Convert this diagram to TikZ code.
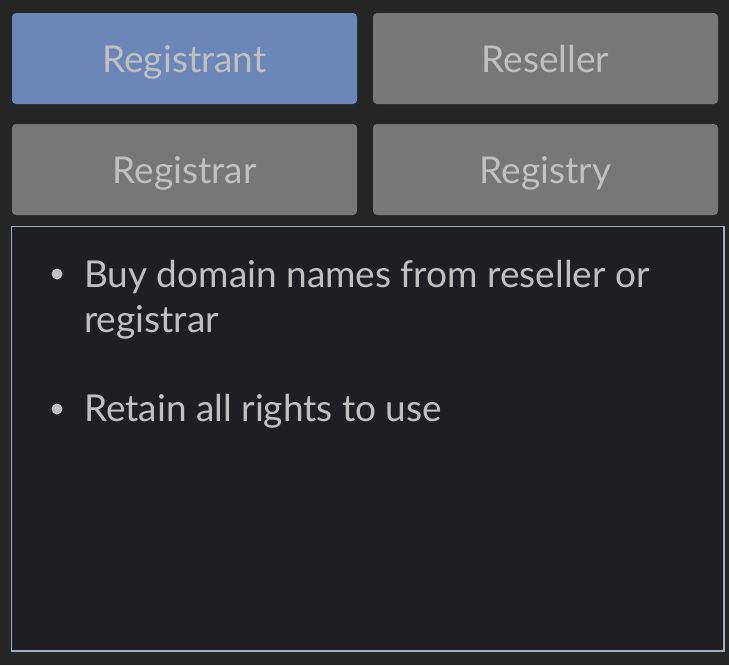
\documentclass[tikz,border=0pt]{standalone}
\usepackage{fontspec}
\setmainfont{Lato}
\definecolor{bgdark}{HTML}{252525}
\definecolor{tabblue}{HTML}{6B87B8}
\definecolor{tabgray}{HTML}{777777}
\definecolor{txtlight}{HTML}{C0C0C0}
\definecolor{panelfill}{HTML}{1F1F23}
\definecolor{panelline}{HTML}{A3AEBD}
\tikzset{
  tab/.style={rectangle, rounded corners=4pt, minimum width=345pt, minimum height=91pt,
    inner sep=0pt, text height=27pt, text depth=0pt, text=txtlight,
    font=\fontsize{37}{44}\selectfont},
  bullettxt/.style={anchor=base west, inner sep=0pt, align=left, text=txtlight,
    font=\fontsize{37}{45}\selectfont},
  bulletdot/.style={circle, fill=txtlight, inner sep=0pt, minimum size=11pt}
}
\begin{document}
\begin{tikzpicture}[x=1pt,y=-1pt]
	\fill[bgdark] (0,0) rectangle (729,665);
	\useasboundingbox (0,0) rectangle (729,665);
	% tabs
	\node[tab, fill=tabblue] (registrant) at (184.5,58.5) {Registrant};
	\node[tab, fill=tabgray] (reseller) at (545.5,58.5) {Reseller};
	\node[tab, fill=tabgray] (registrar) at (184.5,169.5) {Registrar};
	\node[tab, fill=tabgray] (registry) at (545.5,169.5) {Registry};
	% panel
	\draw[panelline, line width=1.2pt, fill=panelfill] (11.5,226.5) rectangle (724,651);
	\node[bulletdot] (dotone) at (57,274) {};
	\node[bullettxt] (lineone) at (84,332) {Buy domain names from reseller or\\registrar};
	\node[bulletdot] (dottwo) at (57,409) {};
	\node[bullettxt] (linetwo) at (84,421) {Retain all rights to use};
\end{tikzpicture}
\end{document}
